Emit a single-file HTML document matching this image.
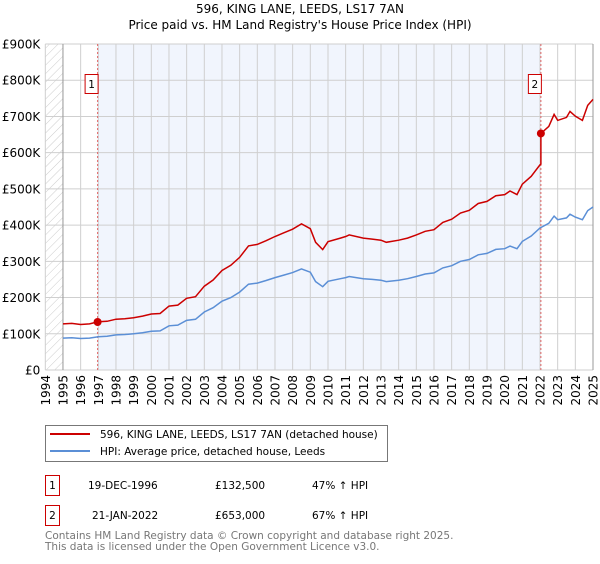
<!DOCTYPE html>
<html><head><meta charset="utf-8"><style>
body{margin:0;background:#fff;font-family:"DejaVu Sans","Liberation Sans",sans-serif;}
svg text{font-family:"DejaVu Sans","Liberation Sans",sans-serif;}
</style></head><body>
<svg id="c" width="600" height="560" viewBox="0 0 600 560">
<defs><pattern id="hatch" width="6" height="6" patternUnits="userSpaceOnUse" patternTransform="rotate(45)"><line x1="0" y1="0" x2="0" y2="6" stroke="#ccc" stroke-width="1"/></pattern></defs>
<text x="300" y="13" text-anchor="middle" font-size="12">596, KING LANE, LEEDS, LS17 7AN</text>
<text x="300" y="29" text-anchor="middle" font-size="12">Price paid vs. HM Land Registry's House Price Index (HPI)</text>
<g id="plot"></g>
<g id="legend">
<rect x="45.5" y="425.5" width="342" height="36" fill="#fff" stroke="#777"/>
<line x1="50" y1="434" x2="90" y2="434" stroke="#cc0000" stroke-width="2"/>
<text x="100" y="438" font-size="10.5">596, KING LANE, LEEDS, LS17 7AN (detached house)</text>
<line x1="50" y1="451" x2="90" y2="451" stroke="#5b8fd6" stroke-width="2"/>
<text x="100" y="455" font-size="10.5">HPI: Average price, detached house, Leeds</text>
</g>
<g font-size="10.5">
<rect x="45.5" y="475.5" width="14" height="20" fill="#fff" stroke="#cc0000"/>
<text x="52.5" y="489" text-anchor="middle">1</text>
<text x="88" y="489">19-DEC-1996</text>
<text x="215" y="489">£132,500</text>
<text x="312" y="489">47% ↑ HPI</text>
</g>
<g font-size="10.5">
<rect x="45.5" y="505.5" width="14" height="20" fill="#fff" stroke="#cc0000"/>
<text x="52.5" y="519" text-anchor="middle">2</text>
<text x="92" y="519">21-JAN-2022</text>
<text x="215" y="519">£653,000</text>
<text x="312" y="519">67% ↑ HPI</text>
</g>
<text x="45" y="539" font-size="10.5" fill="#777">Contains HM Land Registry data © Crown copyright and database right 2025.</text>
<text x="45" y="550" font-size="10.5" fill="#777">This data is licensed under the Open Government Licence v3.0.</text>
</svg>
<script>
const hpiYears=[1995,1995.5,1996,1996.5,1997,1997.5,1998,1998.5,1999,1999.5,2000,2000.5,2001,2001.5,2002,2002.5,2003,2003.5,2004,2004.5,2005,2005.5,2006,2006.5,2007,2007.5,2008,2008.5,2009,2009.3,2009.7,2010,2010.7,2011,2011.2,2012,2012.5,2013,2013.3,2014,2014.5,2015,2015.5,2016,2016.5,2017,2017.5,2018,2018.5,2019,2019.5,2020,2020.3,2020.7,2021,2021.5,2022,2022.5,2022.8,2023,2023.5,2023.7,2024,2024.4,2024.7,2025];
const hpiValues=[88,89,87,88,92,93,97,98,100,103,107,108,122,124,137,140,160,172,190,200,215,237,240,247,255,262,269,279,270,244,230,245,252,255,258,252,250,248,244,248,252,258,265,268,282,288,300,305,318,322,333,335,342,335,355,370,392,405,425,415,420,430,422,415,440,450];
const saleYears=[1996.96,2022.05];
const salePrices=[132.5,653];
const yTicks=[0,100,200,300,400,500,600,700,800,900];
const yTickLabels=["£0","£100K","£200K","£300K","£400K","£500K","£600K","£700K","£800K","£900K"];
const xTicks=[1994,1995,1996,1997,1998,1999,2000,2001,2002,2003,2004,2005,2006,2007,2008,2009,2010,2011,2012,2013,2014,2015,2016,2017,2018,2019,2020,2021,2022,2023,2024,2025];

const NS="http://www.w3.org/2000/svg";
const L=45.3,R=593,T=44,B=370;
const x0=1994,x1=2025,ymax=900;
const sx=v=>L+(v-x0)/(x1-x0)*(R-L);
const sy=v=>B-v/ymax*(B-T);
const g=document.getElementById('plot');
function mk(t,a){const e=document.createElementNS(NS,t);for(const k in a)e.setAttribute(k,a[k]);g.appendChild(e);return e;}
function hpiAt(t){for(let i=0;i<hpiYears.length-1;i++){if(t>=hpiYears[i]&&t<=hpiYears[i+1]){const f=(t-hpiYears[i])/(hpiYears[i+1]-hpiYears[i]);return hpiValues[i]+f*(hpiValues[i+1]-hpiValues[i]);}}return hpiValues[hpiValues.length-1];}

let e;
e=mk('rect',{x:L,y:T,width:sx(1995)-L,height:B-T,fill:'url(#hatch)'});


e=mk('rect',{x:sx(saleYears[0]),y:T,width:sx(saleYears[1])-sx(saleYears[0]),height:B-T,fill:'#f1f5fd'});


xTicks.forEach((y,i)=>{
 e=mk('line',{x1:sx(y),y1:T,x2:sx(y),y2:B,stroke:'#cfcfcf','stroke-width':1});
 
 
 e=mk('text',{x:0,y:0,'font-size':12,'text-anchor':'end',transform:`translate(${sx(y)+4.5},${B+5}) rotate(-90)`});
 e.textContent=y;
 
 
});
yTicks.forEach((v,i)=>{
 e=mk('line',{x1:L,y1:sy(v),x2:R,y2:sy(v),stroke:'#cfcfcf','stroke-width':1});
 
 
 e=mk('text',{x:L-5,y:sy(v)+4.5,'font-size':12,'text-anchor':'end'});
 e.textContent=yTickLabels[i];
 
 
});
e=mk('line',{x1:sx(1995),y1:T,x2:sx(1995),y2:B,stroke:'#999'});


e=mk('line',{x1:R,y1:T,x2:R,y2:B,stroke:'#999'});


saleYears.forEach((y,i)=>{
 e=mk('line',{x1:sx(y),y1:T,x2:sx(y),y2:B,stroke:'#e06666','stroke-dasharray':'2,2'});
 
 
 e=mk('rect',{x:sx(y)-12.5,y:74.5,width:13,height:19,fill:'#fff',stroke:'#cc0000'});
 
 
 e=mk('text',{x:sx(y)-6,y:88,'font-size':10.5,'text-anchor':'middle'});
 e.textContent=i+1;
 
 
});
// HPI line
let d=hpiYears.map((y,i)=>(i?'L':'M')+sx(y).toFixed(1)+','+sy(hpiValues[i]).toFixed(1)).join('');
e=mk('path',{d:d,fill:'none',stroke:'#5b8fd6','stroke-width':1.5});


// property line: indexed from sales
let pts=[];
const r1=salePrices[0]/hpiAt(saleYears[0]),r2=salePrices[1]/hpiAt(saleYears[1]);
hpiYears.forEach((y,i)=>{
 if(y<saleYears[1])pts.push([y,hpiValues[i]*r1]);
 else{ if(pts.length&&pts[pts.length-1][0]<saleYears[1]){pts.push([saleYears[1],hpiAt(saleYears[1])*r1]);pts.push([saleYears[1],salePrices[1]]);} pts.push([y,hpiValues[i]*r2]);}
});
d=pts.map((p,i)=>(i?'L':'M')+sx(p[0]).toFixed(1)+','+sy(p[1]).toFixed(1)).join('');
e=mk('path',{d:d,fill:'none',stroke:'#cc0000','stroke-width':1.5});


saleYears.forEach((y,i)=>{
 e=mk('circle',{cx:sx(y),cy:sy(salePrices[i]),r:4,fill:'#cc0000'});
 
 
});
</script>
</body></html>
